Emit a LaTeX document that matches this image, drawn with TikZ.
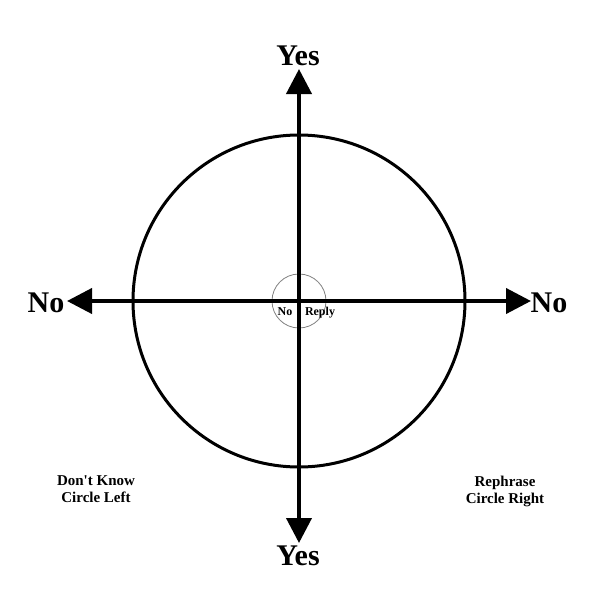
\documentclass[tikz,border=0pt]{standalone}
\usepackage{fontspec}
\setmainfont{Liberation Serif}[Ligatures=TeXOff]
\usetikzlibrary{arrows.meta}
\begin{document}
\begin{tikzpicture}[x=1pt,y=-1pt,
  axis/.style={line width=4pt,-{Triangle[length=25pt,width=25pt]}},
  big/.style={font=\fontsize{30}{36}\selectfont\bfseries,anchor=base,inner sep=0pt},
  small/.style={font=\fontsize{12}{14}\selectfont\bfseries,anchor=base,inner sep=0pt},
  note/.style={font=\fontsize{15}{17}\selectfont\bfseries,align=center,inner sep=0pt}]
\useasboundingbox (0,0) rectangle (600,614);
\coordinate (c) at (299,301);
\coordinate (top) at (299,69);
\coordinate (bot) at (299,543);
\coordinate (lft) at (67,301);
\coordinate (rgt) at (531,301);
\draw[line width=3pt] (c) circle[radius=166];
\draw[gray,line width=0.8pt] (c) circle[radius=27];
\draw[axis] (c) -- (top);
\draw[axis] (c) -- (bot);
\draw[axis] (c) -- (lft);
\draw[axis] (c) -- (rgt);
\node[big] (yestop) at (298,65) {Yes};
\node[big] (yesbot) at (298,565) {Yes};
\node[big] (nol) at (46,312) {No};
\node[big] (nor) at (549,312) {No};
\node[small] (nosm) at (285,315) {No};
\node[small] (reply) at (320,315) {Reply};
\node[note,anchor=base] (dk) at (96,485) {Don't Know};
\node[note,anchor=base] (cl) at (96,502) {Circle Left};
\node[note,anchor=base] (rp) at (505,486) {Rephrase};
\node[note,anchor=base] (cr) at (505,503) {Circle Right};
\end{tikzpicture}
\end{document}
